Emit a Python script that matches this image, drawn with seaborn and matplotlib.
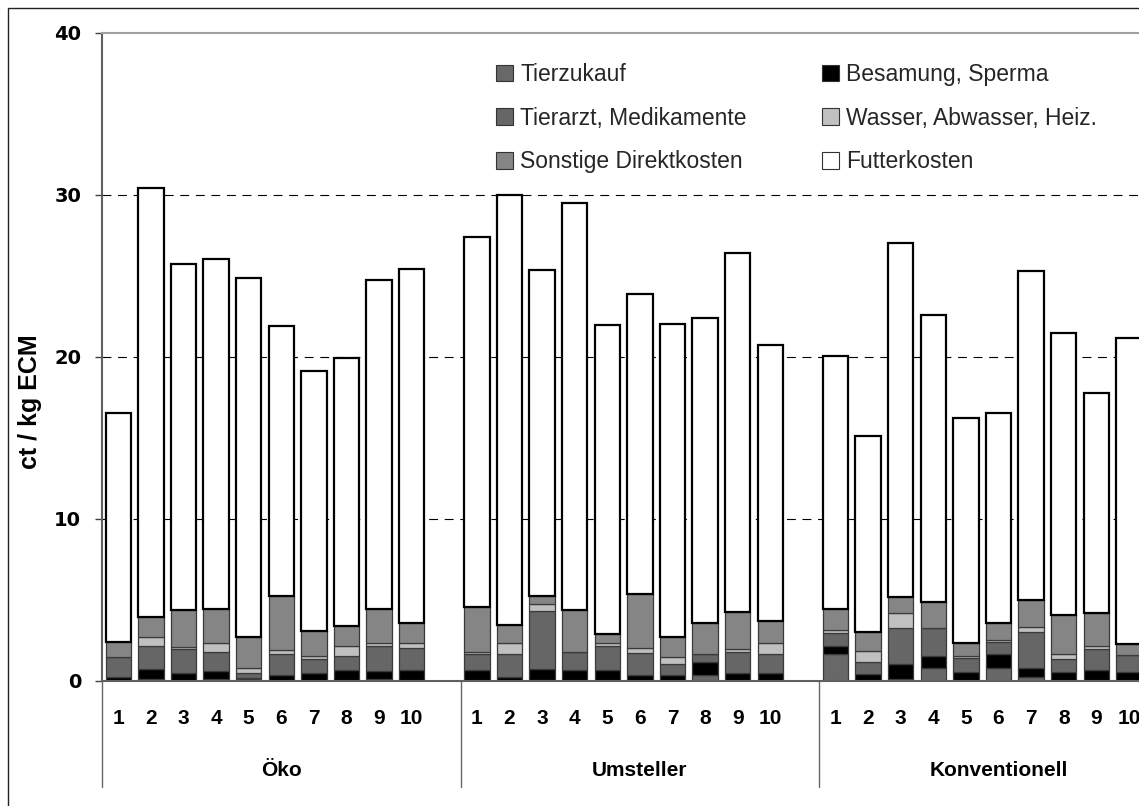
import numpy as np
import pandas as pd
import matplotlib
matplotlib.use("Agg")
import matplotlib.pyplot as plt
import matplotlib.transforms as mtransforms
from matplotlib.patches import Patch, Rectangle
import seaborn as sns

# ---------------- data ----------------
groups = ["Öko", "Umsteller", "Konventionell"]
farm_labels = ["1", "2", "3", "4", "5", "6", "7", "8", "9", "10"]

# values in ct / kg ECM, order: Öko 1-10, Umsteller 1-10, Konventionell 1-10
tierzukauf = [0.00, 0.14, 0.00, 0.14, 0.10, 0.00, 0.00, 0.00, 0.14, 0.00,
              0.00, 0.00, 0.05, 0.00, 0.00, 0.00, 0.00, 0.37, 0.00, 0.00,
              1.67, 0.00, 0.14, 0.78, 0.00, 0.78, 0.27, 0.00, 0.00, 0.00]
besamung = [0.27, 0.62, 0.51, 0.49, 0.10, 0.37, 0.51, 0.68, 0.49, 0.68,
            0.68, 0.27, 0.68, 0.68, 0.68, 0.37, 0.37, 0.78, 0.51, 0.51,
            0.49, 0.41, 0.88, 0.76, 0.53, 0.88, 0.51, 0.53, 0.68, 0.53]
tierarzt = [1.19, 1.40, 1.46, 1.17, 0.30, 1.30, 0.86, 0.86, 1.54, 1.38,
            0.99, 1.40, 3.60, 1.13, 1.50, 1.34, 0.68, 0.51, 1.30, 1.15,
            0.82, 0.74, 2.26, 1.75, 0.86, 0.72, 2.26, 0.80, 1.28, 1.05]
wasser = [0.00, 0.58, 0.14, 0.53, 0.30, 0.25, 0.15, 0.62, 0.16, 0.27,
          0.15, 0.68, 0.43, 0.00, 0.16, 0.30, 0.45, 0.00, 0.16, 0.68,
          0.15, 0.68, 0.93, 0.00, 0.15, 0.16, 0.27, 0.33, 0.20, 0.00]
sonstige = [0.97, 1.19, 2.30, 2.10, 1.90, 3.30, 1.54, 1.25, 2.10, 1.28,
            2.76, 1.13, 0.50, 2.57, 0.56, 3.35, 1.23, 1.95, 2.26, 1.38,
            1.34, 1.17, 1.00, 1.60, 0.82, 1.03, 1.69, 2.41, 2.02, 0.70]
futter = [14.1, 26.5, 21.3, 21.6, 22.2, 16.7, 16.1, 16.5, 20.3, 21.8,
          22.8, 26.5, 20.1, 25.1, 19.1, 18.5, 19.3, 18.8, 22.2, 17.0,
          15.6, 12.1, 21.8, 17.7, 13.9, 13.0, 20.3, 17.4, 13.6, 18.9]

series_names = ["Tierzukauf", "Besamung, Sperma", "Tierarzt, Medikamente",
                "Wasser, Abwasser, Heiz.", "Sonstige Direktkosten", "Futterkosten"]

# ---------------- table ----------------
slots_per_group = 11
pos = [g * slots_per_group + i for g in range(len(groups)) for i in range(len(farm_labels))]
df = pd.DataFrame({
    "pos": pos,
    "Gruppe": [g for g in groups for _ in farm_labels],
    "Betrieb": farm_labels * len(groups),
    series_names[0]: tierzukauf,
    series_names[1]: besamung,
    series_names[2]: tierarzt,
    series_names[3]: wasser,
    series_names[4]: sonstige,
    series_names[5]: futter,
})

# ---------------- style ----------------
sns.set_theme(style="white")
plt.rcParams["font.family"] = ["Liberation Sans", "DejaVu Sans"]

colors = {
    series_names[0]: "#686868",
    series_names[1]: "#000000",
    series_names[2]: "#666666",
    series_names[3]: "#c0c0c0",
    series_names[4]: "#858585",
    series_names[5]: "#ffffff",
}

W, H = 1139, 806
fig = plt.figure(figsize=(W / 100, H / 100), dpi=100)
ax_left, ax_bottom = 102, 681          # pixel coords (from top) of axes origin
slot_px = 32.6
ax_w = slots_per_group * len(groups) * slot_px
ax_h = 681 - 33
ax = fig.add_axes([ax_left / W, (H - ax_bottom) / H, ax_w / W, ax_h / H])

# outer chart border (cropped at right/bottom like the reference)
fig.add_artist(Rectangle((8 / W, -0.5), 2.0, 1 - 8 / H + 0.5, transform=fig.transFigure,
                         fill=False, edgecolor="#222222", lw=1.0, zorder=0))

# dashed grid
for v in [10, 20, 30]:
    ax.axhline(v, color="black", lw=0.8, dashes=(8, 6), zorder=0.5)

bottom = np.zeros(len(df))
for name in series_names:
    is_feed = name == series_names[-1]
    sns.barplot(data=df, x="pos", y=name, native_scale=True, errorbar=None,
                color=colors[name], saturation=1, width=0.78,
                edgecolor="black" if is_feed else "#3a3a3a",
                linewidth=1.6 if is_feed else 0.9,
                bottom=bottom.copy(), ax=ax, zorder=2)
    bottom += df[name].to_numpy()

ax.set_xlim(-0.5, slots_per_group * len(groups) - 0.5)
ax.set_ylim(0, 40)
ax.set_yticks([0, 10, 20, 30, 40])
ax.set_yticklabels(["0", "10", "20", "30", "40"])
for lab in ax.get_yticklabels():
    lab.set_fontfamily(["DejaVu Sans"])
    lab.set_fontweight("bold")
    lab.set_fontsize(14)
ax.tick_params(axis="y", direction="out", length=5, width=1, color="#404040",
               pad=10, left=True, labelcolor="black")

ax.set_xticks(pos)
ax.set_xticklabels(df["Betrieb"], fontweight="bold", fontsize=15)
ax.tick_params(axis="x", length=0, pad=20.5, labelcolor="black")

ax.set_xlabel("")
ax.set_ylabel("ct / kg ECM", fontweight="bold", fontsize=18, color="black")
ax.yaxis.set_label_coords(-(ax_left - 42) / ax_w, (681 - 402) / ax_h)

for side in ["top", "left", "bottom", "right"]:
    ax.spines[side].set_visible(True)
ax.spines["top"].set_color("#a0a0a0")
ax.spines["top"].set_linewidth(1.5)
ax.spines["left"].set_color("#606060")
ax.spines["left"].set_linewidth(1.5)
ax.spines["bottom"].set_color("#606060")
ax.spines["bottom"].set_linewidth(1.5)
ax.spines["right"].set_color("#a0a0a0")

# group labels and separators below the axis
blend = mtransforms.blended_transform_factory(ax.transData, ax.transAxes)
for g, name in enumerate(groups):
    cx = g * slots_per_group + (slots_per_group - 1) / 2
    ax.text(cx, -(771 - 681) / ax_h, name, transform=blend, ha="center", va="center",
            fontsize=15, fontweight="bold", color="black")
for g in range(len(groups) + 1):
    xb = g * slots_per_group - 0.5
    ax.plot([xb, xb], [0, -(787 - 681) / ax_h], transform=blend, clip_on=False,
            color="#666666", lw=1.0)

# legend (row-wise order in two columns)
order = [0, 2, 4, 1, 3, 5]
handles = [Patch(facecolor=colors[series_names[i]], edgecolor="#333333", lw=0.8) for i in order]
labels = [series_names[i] for i in order]
ax.legend(handles, labels, ncol=2, loc="upper left",
          bbox_to_anchor=(496 / W, 1 - 63 / H), bbox_transform=fig.transFigure,
          frameon=False, fontsize=16.5, handlelength=0.75, handleheight=0.75,
          handletextpad=0.3, columnspacing=3.3, labelspacing=0.9,
          borderpad=0, borderaxespad=0)

fig.savefig("out.png", dpi=100)
